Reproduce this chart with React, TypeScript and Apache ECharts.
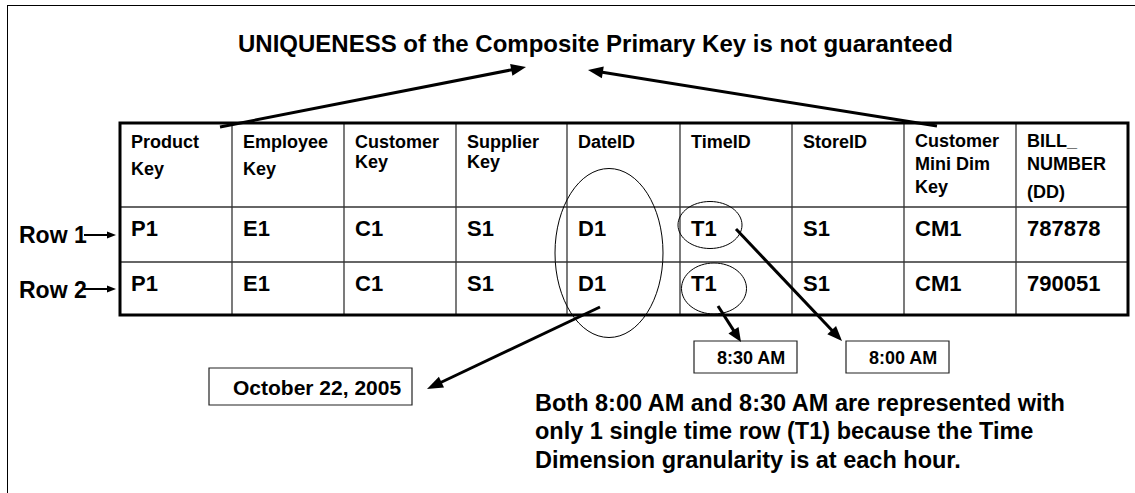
import React, { useEffect, useRef } from "react";
import * as echarts from "echarts";

// ---- content ----
const titleText = "UNIQUENESS of the Composite Primary Key is not guaranteed";
const headerLines: string[][] = [
  ["Product", "Key"],
  ["Employee", "Key"],
  ["Customer", "Key"],
  ["Supplier", "Key"],
  ["DateID"],
  ["TimeID"],
  ["StoreID"],
  ["Customer", "Mini Dim", "Key"],
  ["BILL_", "NUMBER", "(DD)"],
];
const row1Values = ["P1", "E1", "C1", "S1", "D1", "T1", "S1", "CM1", "787878"];
const row2Values = ["P1", "E1", "C1", "S1", "D1", "T1", "S1", "CM1", "790051"];
const rowLabels = ["Row 1", "Row 2"];
const timeLabels = ["8:30 AM", "8:00 AM"];
const dateLabel = "October 22, 2005";
const noteLines = [
  "Both 8:00 AM and 8:30 AM are represented with",
  "only 1 single time row (T1) because the Time",
  "Dimension granularity is at each hour.",
];

// ---- layout ----
const FONT = '"Liberation Sans", Arial, Helvetica, sans-serif';
const colX = [120, 232, 344, 456, 567, 680, 792, 904, 1016, 1128];
const rowY = [123, 207, 262, 315];
const headerBaselines: number[][] = [
  [148, 175],
  [148, 175],
  [148, 168],
  [148, 168],
  [148],
  [148],
  [148],
  [147, 170, 193],
  [147, 170, 198],
];
const valueBaselines = [236, 291];

function txt(text: string, x: number, baseline: number, size: number): any {
  return {
    type: "text",
    z: 20,
    style: {
      text,
      x,
      y: baseline - 0.35 * size,
      fill: "#000",
      fontSize: size,
      fontWeight: "bold",
      fontFamily: FONT,
      align: "left",
      verticalAlign: "middle",
    },
  };
}

function line(x1: number, y1: number, x2: number, y2: number, lw: number, color = "#000", z = 10): any {
  return {
    type: "line",
    z,
    shape: { x1, y1, x2, y2 },
    style: { stroke: color, lineWidth: lw, lineCap: "butt" },
  };
}

function arrow(x1: number, y1: number, x2: number, y2: number, lw: number, hl: number, hw: number): any[] {
  const dx = x2 - x1;
  const dy = y2 - y1;
  const L = Math.sqrt(dx * dx + dy * dy);
  const ux = dx / L;
  const uy = dy / L;
  const bx = x2 - ux * hl;
  const by = y2 - uy * hl;
  const px = -uy;
  const py = ux;
  return [
    line(x1, y1, bx + ux * 2, by + uy * 2, lw, "#000", 30),
    {
      type: "polygon",
      z: 31,
      shape: {
        points: [
          [x2, y2],
          [bx + (px * hw) / 2, by + (py * hw) / 2],
          [bx - (px * hw) / 2, by - (py * hw) / 2],
        ],
      },
      style: { fill: "#000", stroke: "none" },
    },
  ];
}

function ellipse(cx: number, cy: number, rx: number, ry: number): any {
  return {
    type: "ellipse",
    z: 25,
    shape: { cx, cy, rx, ry },
    style: { fill: "none", stroke: "#000", lineWidth: 1 },
  };
}

function box(x: number, y: number, w: number, h: number): any {
  return {
    type: "rect",
    z: 15,
    shape: { x, y, width: w, height: h },
    style: { fill: "#fff", stroke: "#222", lineWidth: 1.2 },
  };
}

function buildElements(): any[] {
  const els: any[] = [];
  // outer frame (top + left)
  els.push(line(7, 5.5, 1135, 5.5, 1, "#000", 5));
  els.push(line(7.5, 5, 7.5, 493, 1, "#000", 5));

  // title
  els.push(txt(titleText, 238, 52, 24));

  // table inner lines
  const left = colX[0];
  const right = colX[colX.length - 1];
  for (let i = 1; i < colX.length - 1; i++) {
    els.push(line(colX[i], rowY[0], colX[i], rowY[3], 1.2, "#222", 10));
  }
  els.push(line(left, rowY[1], right, rowY[1], 1.4, "#333", 10));
  els.push(line(left, rowY[2], right, rowY[2], 1.4, "#333", 10));
  // table outer border
  els.push({
    type: "rect",
    z: 11,
    shape: { x: left, y: rowY[0], width: right - left, height: rowY[3] - rowY[0] },
    style: { fill: "none", stroke: "#000", lineWidth: 3 },
  });

  // header texts
  headerLines.forEach((lines, c) => {
    lines.forEach((t, k) => {
      els.push(txt(t, colX[c] + 11, headerBaselines[c][k], 18));
    });
  });
  // row values
  [row1Values, row2Values].forEach((vals, r) => {
    vals.forEach((v, c) => {
      els.push(txt(v, colX[c] + 11, valueBaselines[r], 22));
    });
  });

  // row labels with small arrows
  const labelBaselines = [243, 298];
  const labelArrowY = [235, 289];
  rowLabels.forEach((t, r) => {
    els.push(txt(t, 19, labelBaselines[r], 23));
    els.push(...arrow(84, labelArrowY[r], 116, labelArrowY[r], 2, 9, 7));
  });

  // ellipses
  els.push(ellipse(609, 253, 54, 84.5));
  els.push(ellipse(710, 225, 32, 23.5));
  els.push(ellipse(714, 288.5, 32.5, 25.5));

  // title arrows
  els.push(...arrow(220, 127, 526, 67, 3, 15, 12));
  els.push(...arrow(937, 126, 588, 70, 3, 15, 12));
  // date arrow
  els.push(...arrow(600, 307, 427, 389, 3, 16, 12));
  // time arrows
  els.push(...arrow(718, 306, 741, 342, 3, 14, 12));
  els.push(...arrow(736, 229, 842, 341, 3, 15, 12));

  // boxes
  els.push(box(209, 368, 203, 37));
  els.push(txt(dateLabel, 233, 395, 21));
  els.push(box(694, 341, 103, 32));
  els.push(txt(timeLabels[0], 717, 364, 18));
  els.push(box(846, 341, 103, 32));
  els.push(txt(timeLabels[1], 869, 364, 18));

  // note
  const noteBaselines = [411, 439.5, 468];
  noteLines.forEach((t, i) => els.push(txt(t, 535, noteBaselines[i], 23.5)));

  return els;
}

export default function App() {
  const ref = useRef<HTMLDivElement>(null);
  useEffect(() => {
    if (!ref.current) return;
    const chart = echarts.init(ref.current, undefined, { renderer: "svg" });
    chart.setOption({
      animation: false,
      backgroundColor: "#fff",
      graphic: { elements: buildElements() },
    });
    return () => chart.dispose();
  }, []);
  return (
    <div
      ref={ref}
      style={{ position: "absolute", left: 0, top: 0, width: 1135, height: 493, background: "#fff" }}
    />
  );
}
